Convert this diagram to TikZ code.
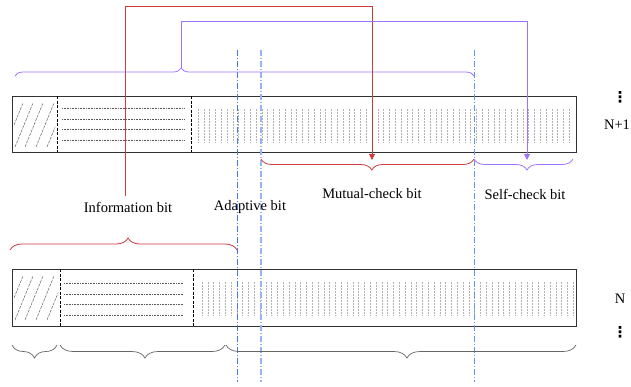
\documentclass[tikz,border=0pt]{standalone}
\usepackage{fontspec}
\setmainfont{Liberation Serif}
\newfontfamily\djv{DejaVu Sans}
\usetikzlibrary{decorations.pathreplacing,arrows.meta}
\definecolor{cred}{RGB}{205,60,60}
\definecolor{cpurple}{RGB}{160,115,255}
\definecolor{cblueA}{RGB}{70,120,235}
\definecolor{cblueB}{RGB}{150,180,245}
\definecolor{cblueC}{RGB}{100,150,240}
\definecolor{cbar}{RGB}{50,50,50}
\tikzset{
  bar/.style={draw=cbar,line width=1.2pt},
  divider/.style={black,line width=0.9pt,dash pattern=on 3pt off 1.5pt},
  hatch/.style={gray!80!black,line width=0.5pt,dash pattern=on 3pt off 1pt},
  hline/.style={gray!70!black,line width=0.5pt,dash pattern=on 1pt off 0.6pt},
  vline/.style={gray!60,line width=0.6pt,dash pattern=on 1.6pt off 1.4pt},
  guide/.style={line width=0.7pt,dash pattern=on 6pt off 2pt on 1pt off 2pt},
  bracedown/.style 2 args={decorate,decoration={brace,mirror,amplitude=#1,aspect=#2}},
  braceup/.style 2 args={decorate,decoration={brace,amplitude=#1,aspect=#2}},
  lbl/.style={font=\fontsize{14.5}{16}\selectfont,inner sep=0pt},
  dots/.style={font=\djv\bfseries\fontsize{15}{16}\selectfont,inner sep=0pt},
  tip/.style={-{Triangle[width=6pt,length=6pt]}},
}
\begin{document}
\begin{tikzpicture}[x=1pt,y=-1pt]
\useasboundingbox (0,0) rectangle (631,386);

% ---------- top bar (N+1) ----------
\node[bar,minimum width=564pt,minimum height=56pt,inner sep=0pt,anchor=north west] (top) at (12,96) {};
\draw[divider] (57.5,96) -- (57.5,152);
\draw[divider] (191.5,96) -- (191.5,152);
\begin{scope}
\clip (14,102) rectangle (55,148);
\foreach \s in {5,15,25,36,47} \draw[hatch] (\s,147) -- ++(18,-44);
\end{scope}
\foreach \y in {108,119,129,140} \draw[hline] (62,\y) -- (184,\y);
\foreach \i in {0,...,64} \draw[vline] (198+\i*5.8,109) -- (198+\i*5.8,143);

% ---------- bottom bar (N) ----------
\node[bar,minimum width=564pt,minimum height=57pt,inner sep=0pt,anchor=north west] (bot) at (12,269) {};
\draw[divider] (60,269) -- (60,326);
\draw[divider] (193,269) -- (193,326);
\begin{scope}
\clip (14,275) rectangle (58,321);
\foreach \s in {5,15,25,36,47} \draw[hatch] (\s,320) -- ++(18,-44);
\end{scope}
\foreach \y in {283,294,304,315} \draw[hline] (64,\y) -- (183,\y);
\foreach \i in {0,...,64} \draw[vline] (202+\i*5.8,282) -- (202+\i*5.8,316);

% ---------- guide lines ----------
\coordinate (gA1) at (237,50);  \coordinate (gA2) at (237,382);
\coordinate (gB1) at (261,50);  \coordinate (gB2) at (261,382);
\coordinate (gC1) at (474,50);  \coordinate (gC2) at (474,382);
\draw[guide,cblueA] (gA1) -- (gA2);
\draw[guide,cblueB,line width=1.1pt] (gB1) -- (gB2);
\draw[guide,cblueC] (gC1) -- (gC2);

% ---------- labels ----------
\node[lbl] (info) at (128,207) {Information bit};
\node[lbl] (adap) at (250,207) {Adaptive bit};
\node[lbl] (mut) at (372,194) {Mutual-check bit};
\node[lbl] (self) at (525,194) {Self-check bit};
\node[lbl] (n1) at (617,125) {N+1};
\node[dots] (d1) at (620,97) {⋮};
\node[lbl] (n) at (620,299) {N};
\node[dots] (d2) at (620,332) {⋮};

% ---------- braces ----------
\draw[braceup={8pt}{0.362},cpurple,line width=0.8pt] (15,76) -- (474,76);
\coordinate (ptip) at (181,68);
\draw[bracedown={11pt}{0.52},cred,line width=0.8pt] (261,159) -- (474,159);
\draw[bracedown={11pt}{0.535},cpurple,line width=0.8pt] (474,159) -- (573,159);
\draw[braceup={12pt}{0.52},cred,line width=0.8pt] (10,250) -- (237,250);
\draw[bracedown={13pt}{0.5},gray!80!black,line width=0.7pt] (12,345) -- (57,345);
\draw[bracedown={13pt}{0.515},gray!80!black,line width=0.7pt] (60,345) -- (225,345);
\draw[bracedown={13pt}{0.517},gray!80!black,line width=0.7pt] (226,345) -- (576,345);

% ---------- connectors ----------
\coordinate (rs) at (125,196);
\draw[tip,cred,line width=0.9pt] (rs) -- (125,6) -- (372,6) -- (372,160);
\draw[tip,cpurple,line width=1pt] (ptip) -- (181,21) -- (527,21) -- (527,160);
\end{tikzpicture}
\end{document}
